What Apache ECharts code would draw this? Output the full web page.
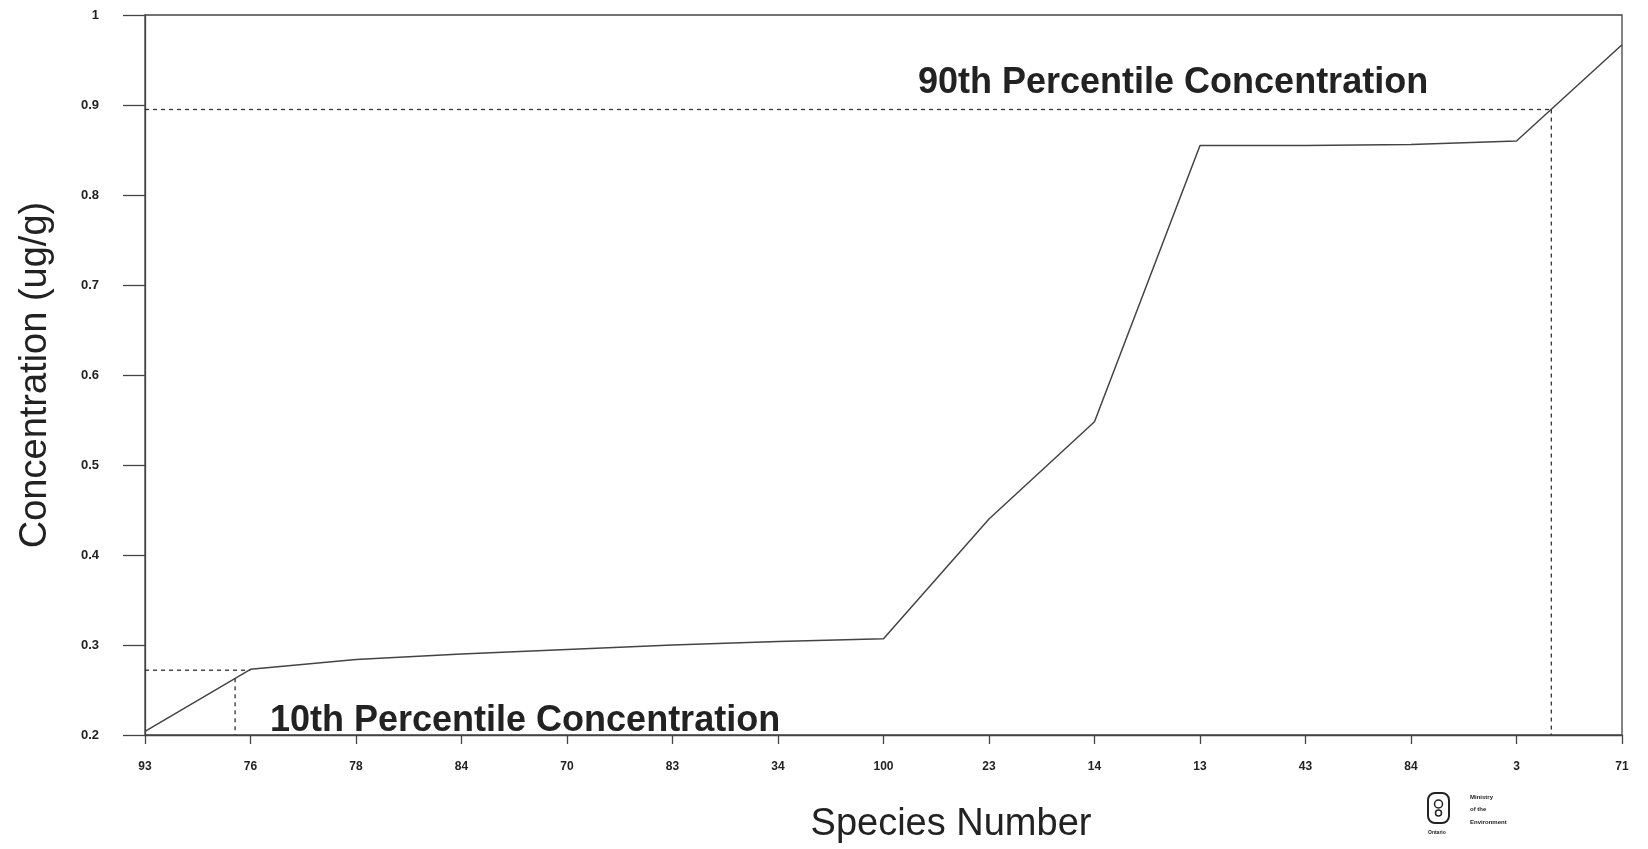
<!DOCTYPE html>
<html>
<head>
<meta charset="utf-8">
<script src="https://cdn.jsdelivr.net/npm/echarts@6/dist/echarts.min.js"></script>
<style>
  html, body { margin: 0; padding: 0; background: #ffffff; overflow: hidden; }
  #chart { width: 1648px; height: 849px; }
</style>
</head>
<body>
<div id="chart"></div>
<script>
// ---- data ----
const species = ['93', '76', '78', '84', '70', '83', '34', '100', '23', '14', '13', '43', '84', '3', '71'];
const concentration = [0.204, 0.273, 0.284, 0.290, 0.295, 0.300, 0.304, 0.307, 0.44, 0.548, 0.855, 0.855, 0.856, 0.860, 0.967];
const yTicks = [0.2, 0.3, 0.4, 0.5, 0.6, 0.7, 0.8, 0.9, 1];
const p10Value = 0.272;
const p10X = 0.854;
const p10CurveY = 0.263;
const p90Value = 0.895;
const p90X = 13.33;
const p10Label = '10th Percentile Concentration';
const p90Label = '90th Percentile Concentration';
const xTitle = 'Species Number';
const yTitle = 'Concentration (ug/g)';

const lineData = concentration.map((v, i) => [i, v]);
const p10H = [[0, p10Value], [1, p10Value]];
const p10V = [[p10X, p10CurveY], [p10X, yTicks[0]]];
const p90H = [[0, p90Value], [p90X, p90Value]];
const p90V = [[p90X, p90Value], [p90X, yTicks[0]]];

const chart = echarts.init(document.getElementById('chart'));
const dashStyle = { color: '#333', width: 1.3, type: [4, 4] };

chart.setOption({
  animation: false,
  backgroundColor: '#ffffff',
  grid: { left: 145, right: 26, top: 15, bottom: 114, show: true, borderColor: '#444', borderWidth: 1.3,
          containLabel: false, outerBoundsMode: 'none' },
  xAxis: {
    type: 'value', min: 0, max: species.length - 1, interval: 1,
    axisLine: { lineStyle: { color: '#444', width: 1.3 } },
    axisTick: { show: true, length: 9, lineStyle: { color: '#444', width: 1.3 } },
    axisLabel: { margin: 26, fontFamily: 'Liberation Sans', fontWeight: 'bold', fontSize: 12, color: '#222',
      formatter: v => species[Math.round(v)] ?? '' },
    splitLine: { show: false }
  },
  yAxis: {
    type: 'value', min: yTicks[0], max: yTicks[yTicks.length - 1], interval: 0.1,
    name: yTitle, nameLocation: 'middle', nameGap: 90, nameRotate: 90,
    nameTextStyle: { fontFamily: 'Liberation Sans', fontSize: 38, color: '#222' },
    axisLine: { lineStyle: { color: '#444', width: 1.3 } },
    axisTick: { show: true, length: 22, lineStyle: { color: '#444', width: 1.3 } },
    axisLabel: { margin: 46, fontFamily: 'Liberation Sans', fontWeight: 'bold', fontSize: 13, color: '#222',
      formatter: v => String(+v.toFixed(1)) },
    splitLine: { show: false }
  },
  series: [
    { type: 'line', data: lineData, symbol: 'none', lineStyle: { color: '#444', width: 1.5 }, z: 3 },
    { type: 'line', data: p10H, symbol: 'none', lineStyle: dashStyle },
    { type: 'line', data: p10V, symbol: 'none', lineStyle: dashStyle },
    { type: 'line', data: p90H, symbol: 'none', lineStyle: dashStyle },
    { type: 'line', data: p90V, symbol: 'none', lineStyle: dashStyle }
  ],
  graphic: [
    { type: 'text', x: 951, y: 825, style: { text: xTitle, font: '38px "Liberation Sans"', fill: '#222', align: 'center', verticalAlign: 'middle' } },
    { type: 'text', x: 918, y: 83, style: { text: p90Label, font: 'bold 36px "Liberation Sans"', fill: '#222', align: 'left', verticalAlign: 'middle' } },
    { type: 'text', x: 270, y: 721, style: { text: p10Label, font: 'bold 36px "Liberation Sans"', fill: '#222', align: 'left', verticalAlign: 'middle' } },
    // Ontario ministry logo (small)
    { type: 'rect', shape: { x: 1428, y: 793, width: 21, height: 30, r: 7 }, style: { fill: 'none', stroke: '#222', lineWidth: 2 } },
    { type: 'circle', shape: { cx: 1438.5, cy: 804, r: 4 }, style: { fill: 'none', stroke: '#222', lineWidth: 1.5 } },
    { type: 'circle', shape: { cx: 1438.5, cy: 813, r: 3 }, style: { fill: 'none', stroke: '#222', lineWidth: 1.5 } },
    { type: 'text', x: 1470, y: 794, style: { text: 'Ministry', font: 'bold 6px "Liberation Sans"', fill: '#222' } },
    { type: 'text', x: 1470, y: 806, style: { text: 'of the', font: 'bold 6px "Liberation Sans"', fill: '#222' } },
    { type: 'text', x: 1470, y: 819, style: { text: 'Environment', font: 'bold 6px "Liberation Sans"', fill: '#222' } },
    { type: 'text', x: 1428, y: 830, style: { text: 'Ontario', font: 'bold 5px "Liberation Sans"', fill: '#222' } }
  ]
});
</script>
</body>
</html>
